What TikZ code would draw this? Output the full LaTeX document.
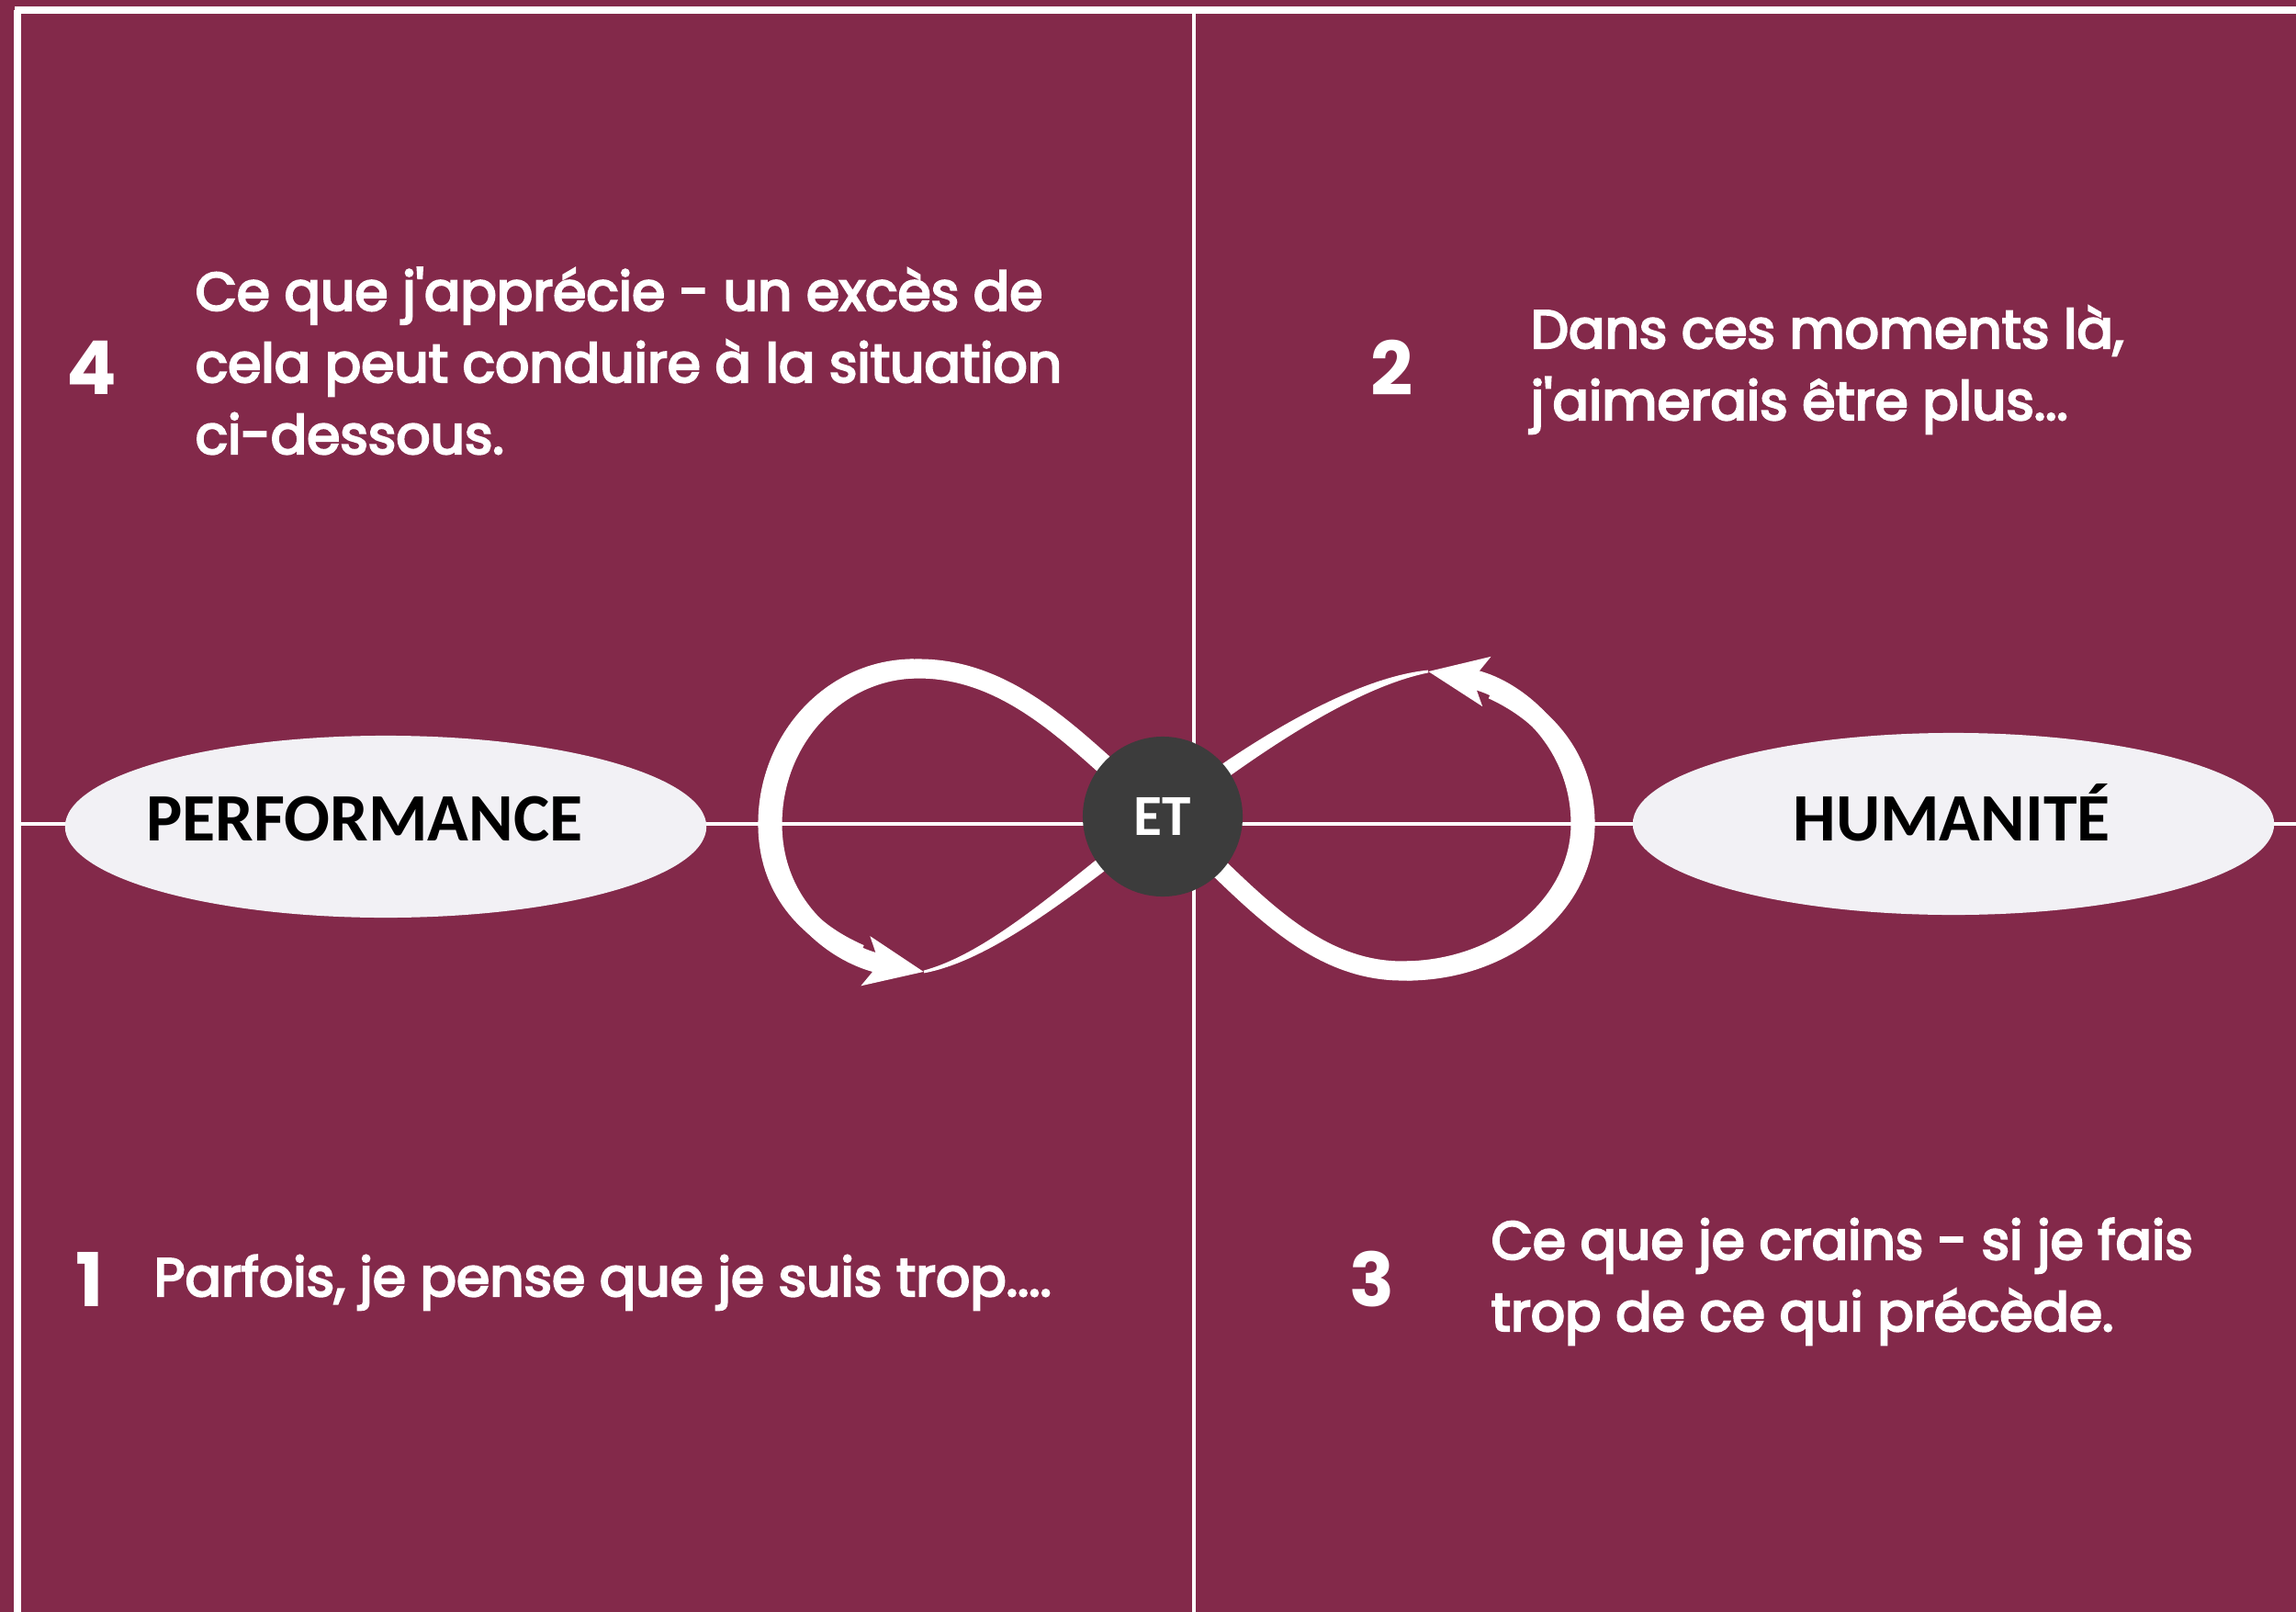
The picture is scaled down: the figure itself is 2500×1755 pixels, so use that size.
\documentclass[tikz,border=0pt]{standalone}
\usepackage{fontspec}
\usepackage{tikz}
\usetikzlibrary{arrows.meta}
\usetikzlibrary{shapes.geometric}
\setmainfont{Poppins}[Ligatures=TeXOff]
\newfontfamily\popfont{Poppins}[Ligatures=TeXOff,FakeBold=4]
\newfontfamily\polefont{Carlito}
\definecolor{bgwine}{HTML}{83294A}
\definecolor{polegray}{HTML}{F2F1F5}
\definecolor{etgray}{HTML}{3C3C3C}

\tikzset{
  frameline/.style={white,line width=2pt},
  axisline/.style={white,line width=0.9pt},
  pole/.style={ellipse,fill=polegray,minimum width=6.98cm,minimum height=1.98cm,inner sep=0pt},
  poletext/.style={anchor=base,inner sep=0pt,text=black,font=\polefont\bfseries\fontsize{21}{21}\selectfont},
  etdot/.style={circle,fill=etgray,minimum size=1.74cm,inner sep=0pt,text=white,font=\polefont\bfseries\fontsize{18}{18}\selectfont},
  stepnum/.style={text=white,inner sep=0pt,font=\bfseries\fontsize{23}{23}\selectfont},
  stepinfo/.style={text=white,anchor=base west,align=left,inner sep=0pt,font=\popfont\fontsize{16.6}{22.2}\selectfont},
  loopline/.style={white,line width=6pt,>={Stealth[length=18pt,width=15pt,inset=4pt]},<->},
  loopwide/.style={white,line width=6pt},
}

\begin{document}
\begin{tikzpicture}[x=0.01cm,y=-0.01cm]
  \useasboundingbox (0,0) rectangle (2500,1755);
  \fill[bgwine] (0,0) rectangle (2500,1755);

  % frame and axes
  \draw[frameline] (16,11) -- (2500,11);
  \draw[frameline] (19,11) -- (19,1755);
  \draw[axisline] (1300,15) -- (1300,1755);
  \draw[axisline] (19,897) -- (2500,897);

  % the two poles
  \node[pole] (perf) at (420,900) {};
  \node[poletext] (perftxt) at (397,915) {PERFORMANCE};
  \node[pole] (huma) at (2127,897) {};
  \node[poletext] (humatxt) at (2125,915) {HUMANITÉ};

  % infinity loop
  \draw[loopline] (1555,731) .. controls (1648,747) and (1721,805) .. (1721,897)
    .. controls (1721,985) and (1634,1057) .. (1527,1057)
    .. controls (1417,1057) and (1348,957) .. (1266,889)
    .. controls (1184,821) and (1110,728) .. (1000,728)
    .. controls (912,728) and (841,804) .. (841,897)
    .. controls (841,990) and (914,1041) .. (1006,1058);
  % thicker outer sides of the two lobes
  \draw[loopwide,xshift=-0.05cm] (1000,728) .. controls (912,728) and (841,804) .. (841,897)
    .. controls (841,966.75) and (882,1012.9) .. (941.4,1038.75);
  \draw[loopwide,xshift=0.05cm] (1620.2,750.75) .. controls (1679.9,778.1) and (1721,828) .. (1721,897)
    .. controls (1721,985) and (1634,1057) .. (1527,1057);
  % thin crossing stroke
  \filldraw[white,line width=0.8pt] (1006,1058) .. controls (1080,1038) and (1162,961) .. (1262,883.5)
    .. controls (1362,806) and (1475,739) .. (1555,731)
    .. controls (1475,747) and (1370,817) .. (1270,894.5)
    .. controls (1170,972) and (1080,1044) .. (1006,1058) -- cycle;

  \node[etdot] (et) at (1266,889) {ET};

  % quadrant texts
  \node[stepnum] (n4) at (100,400) {4};
  \node[stepinfo] (t4) at (212,494) {Ce que j'apprécie - un excès de\\cela peut conduire à la situation\\ci-dessous.};
  \node[stepnum] (n2) at (1516,400) {2};
  \node[stepinfo] (t2) at (1666,457) {Dans ces moments là,\\j'aimerais être plus...};
  \node[stepnum] (n1) at (98,1393) {1};
  \node[stepinfo] (t1) at (167,1411) {Parfois, je pense que je suis trop....};
  \node[stepnum] (n3) at (1494,1393) {3};
  \node[stepinfo] (t3) at (1623,1449) {Ce que je crains - si je fais\\trop de ce qui précède.};
\end{tikzpicture}
\end{document}
